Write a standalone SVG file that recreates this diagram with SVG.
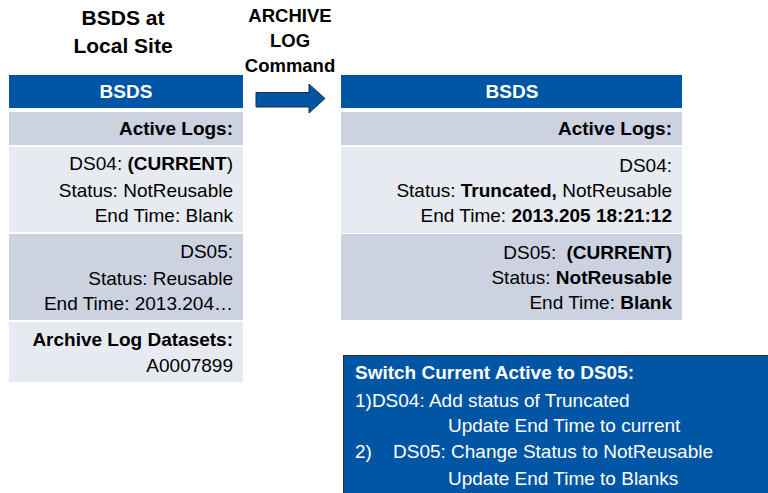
<svg xmlns="http://www.w3.org/2000/svg" width="768" height="493" viewBox="0 0 768 493">
<style>
text{font-family:"Liberation Sans",Arial,sans-serif;fill:#000}
.t{font-size:19px}
.r{text-anchor:end}
.b{font-weight:bold}
.hdr{fill:#0055A5}
.dk{fill:#CCD2E0}
.lt{fill:#E7EAF1}
.ttl{font-size:21px;font-weight:bold;text-anchor:middle}
.cmd{font-size:18.5px;font-weight:bold;text-anchor:middle}
</style>
<rect width="768" height="493" fill="#fff"/>
<g id="title-left">
<text class="ttl" x="123" y="25">BSDS at</text>
<text class="ttl" x="123" y="53">Local Site</text>
</g>
<g id="title-cmd">
<text class="cmd" x="290" y="22">ARCHIVE</text>
<text class="cmd" x="290" y="47">LOG</text>
<text class="cmd" x="290" y="72">Command</text>
</g>
<g id="connectors">
<polygon points="256,92.5 309,92.5 309,84 325,98.5 309,113 309,107 256,107" fill="#0055A5" stroke="#1a2a40" stroke-width="1"/>
</g>
<g id="left-table">
<rect class="hdr" x="9" y="75" width="234" height="33"/>
<text class="t b" x="126" y="98" text-anchor="middle" style="fill:#fff">BSDS</text>
<rect class="dk" x="9" y="112" width="234" height="33"/>
<text class="t b r" x="233" y="135">Active Logs:</text>
<rect class="lt" x="9" y="147" width="234" height="85"/>
<text class="t r" x="233" y="170">DS04: <tspan class="b">(CURRENT</tspan>)</text>
<text class="t r" x="233" y="197">Status: NotReusable</text>
<text class="t r" x="233" y="222">End Time: Blank</text>
<rect class="dk" x="9" y="234" width="234" height="86"/>
<text class="t r" x="233" y="258">DS05:</text>
<text class="t r" x="233" y="285">Status: Reusable</text>
<text class="t r" x="233" y="310">End Time: 2013.204…</text>
<rect class="lt" x="9" y="322" width="234" height="60"/>
<text class="t b r" x="233" y="346">Archive Log Datasets:</text>
<text class="t r" x="233" y="372">A0007899</text>
</g>
<g id="right-table">
<rect class="hdr" x="341" y="75" width="341" height="33"/>
<text class="t b" x="512" y="98" text-anchor="middle" style="fill:#fff">BSDS</text>
<rect class="dk" x="341" y="112" width="341" height="33"/>
<text class="t b r" x="672" y="135">Active Logs:</text>
<rect class="lt" x="341" y="147" width="341" height="86"/>
<text class="t r" x="672" y="172">DS04:</text>
<text class="t r" x="672" y="197">Status: <tspan class="b">Truncated,</tspan> NotReusable</text>
<text class="t r" x="672" y="222">End Time: <tspan class="b">2013.205 18:21:12</tspan></text>
<rect class="dk" x="341" y="234" width="341" height="86"/>
<text class="t r" x="672" y="259">DS05: <tspan class="b" dx="5">(CURRENT)</tspan></text>
<text class="t r" x="672" y="284">Status: <tspan class="b">NotReusable</tspan></text>
<text class="t r" x="672" y="309">End Time: <tspan class="b">Blank</tspan></text>
</g>
<g id="note">
<rect x="343.5" y="355.5" width="430" height="145" fill="#0055A5" stroke="#2a2a2a" stroke-width="1"/>
<text class="t b" x="355" y="379" style="fill:#fff">Switch Current Active to DS05:</text>
<text class="t" x="355" y="407" style="fill:#fff">1)DS04: Add status of Truncated</text>
<text class="t" x="448" y="432" style="fill:#fff">Update End Time to current</text>
<text class="t" x="355" y="458" style="fill:#fff">2)</text>
<text class="t" x="393" y="458" style="fill:#fff">DS05: Change Status to NotReusable</text>
<text class="t" x="448" y="485" style="fill:#fff">Update End Time to Blanks</text>
</g>
</svg>
